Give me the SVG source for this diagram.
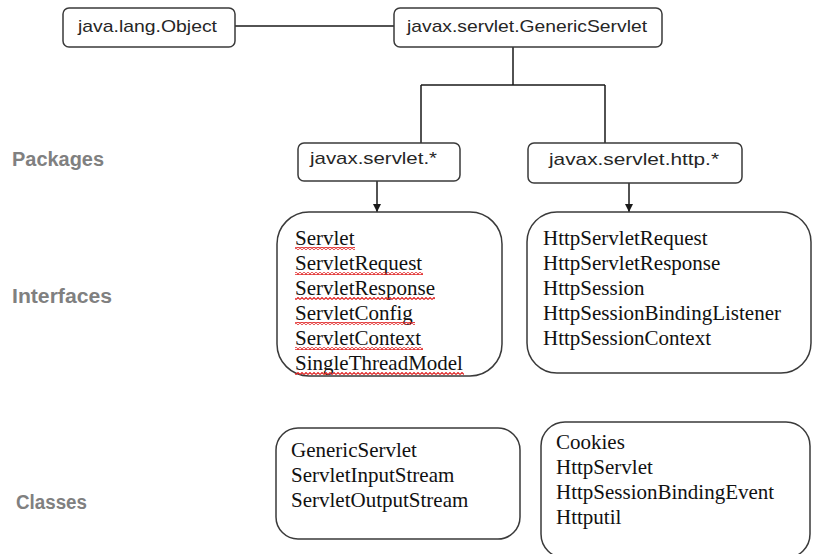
<svg xmlns="http://www.w3.org/2000/svg" width="813" height="554" viewBox="0 0 813 554">
  <style>
    .box { fill: #ffffff; stroke: #3a3a3a; stroke-width: 1.5; }
    .edge { fill: none; stroke: #1a1a1a; stroke-width: 1.5; }
    .sans { font-family: "Liberation Sans", Arial, sans-serif; font-size: 17px; fill: #262626; }
    .serif { font-family: "Liberation Serif", "Times New Roman", serif; font-size: 21px; fill: #111111; }
    .label { font-family: "Liberation Sans", Arial, sans-serif; font-size: 20px; font-weight: bold; fill: #808080; }
    .squiggle { fill: url(#wave); }
  </style>
  <defs>
    <marker id="arrow" viewBox="0 0 10 10" refX="10" refY="5" markerWidth="8" markerHeight="8" orient="auto" markerUnits="userSpaceOnUse">
      <path d="M0,0 L10,5 L0,10 z" fill="#1a1a1a"/>
    </marker>
    <!-- red wavy underline tile -->
    <pattern id="wave" width="4" height="3" patternUnits="userSpaceOnUse">
      <path d="M0,2.5 L2,0.5 L4,2.5" fill="none" stroke="#e02020" stroke-width="1.1"/>
    </pattern>
  </defs>

  <!-- side labels -->
  <g id="labels">
    <text class="label" x="12" y="166" textLength="92" lengthAdjust="spacingAndGlyphs">Packages</text>
    <text class="label" x="12" y="303" textLength="100" lengthAdjust="spacingAndGlyphs">Interfaces</text>
    <text class="label" x="16" y="509" textLength="71" lengthAdjust="spacingAndGlyphs">Classes</text>
  </g>

  <!-- connectors -->
  <g id="connectors">
    <line class="edge" x1="235" y1="26" x2="394" y2="26"/>
    <path class="edge" d="M513,47 V85 M421,85 H605 M421,85 V143 M605,85 V143"/>
    <line class="edge" x1="377" y1="181" x2="377" y2="212" marker-end="url(#arrow)"/>
    <line class="edge" x1="629" y1="183" x2="629" y2="212" marker-end="url(#arrow)"/>
  </g>

  <g id="java-lang-object">
    <rect class="box" x="63" y="8" width="172" height="39" rx="6"/>
    <text class="sans" x="78" y="32" textLength="139" lengthAdjust="spacingAndGlyphs">java.lang.Object</text>
  </g>

  <g id="generic-servlet">
    <rect class="box" x="394" y="8" width="268" height="39" rx="6"/>
    <text class="sans" x="407" y="32" textLength="240" lengthAdjust="spacingAndGlyphs">javax.servlet.GenericServlet</text>
  </g>

  <g id="pkg-servlet">
    <rect class="box" x="298" y="143" width="162" height="38" rx="6"/>
    <text class="sans" x="310" y="164" textLength="127" lengthAdjust="spacingAndGlyphs">javax.servlet.*</text>
  </g>

  <g id="pkg-http">
    <rect class="box" x="528" y="143" width="214" height="40" rx="6"/>
    <text class="sans" x="549" y="165" textLength="170" lengthAdjust="spacingAndGlyphs">javax.servlet.http.*</text>
  </g>

  <g id="servlet-interfaces">
    <rect class="box" x="277" y="212" width="225" height="164" rx="32"/>
    <text class="serif" x="295" y="245">Servlet</text>
    <text class="serif" x="295" y="270">ServletRequest</text>
    <text class="serif" x="295" y="295">ServletResponse</text>
    <text class="serif" x="295" y="320">ServletConfig</text>
    <text class="serif" x="295" y="345">ServletContext</text>
    <text class="serif" x="295" y="370">SingleThreadModel</text>
    <rect class="squiggle" x="295" y="247" width="60" height="3"/>
    <rect class="squiggle" x="295" y="272" width="128" height="3"/>
    <rect class="squiggle" x="295" y="297" width="140" height="3"/>
    <rect class="squiggle" x="295" y="322" width="120" height="3"/>
    <rect class="squiggle" x="295" y="347" width="128" height="3"/>
    <rect class="squiggle" x="295" y="372" width="169" height="3"/>
  </g>

  <g id="http-interfaces">
    <rect class="box" x="527" y="212" width="284" height="161" rx="30"/>
    <text class="serif" x="543" y="245">HttpServletRequest</text>
    <text class="serif" x="543" y="270">HttpServletResponse</text>
    <text class="serif" x="543" y="295">HttpSession</text>
    <text class="serif" x="543" y="320">HttpSessionBindingListener</text>
    <text class="serif" x="543" y="345">HttpSessionContext</text>
  </g>

  <g id="servlet-classes">
    <rect class="box" x="276" y="428" width="244" height="111" rx="22"/>
    <text class="serif" x="291" y="457">GenericServlet</text>
    <text class="serif" x="291" y="482">ServletInputStream</text>
    <text class="serif" x="291" y="507">ServletOutputStream</text>
  </g>

  <g id="http-classes">
    <rect class="box" x="541" y="422" width="269" height="136" rx="24"/>
    <text class="serif" x="556" y="449">Cookies</text>
    <text class="serif" x="556" y="474">HttpServlet</text>
    <text class="serif" x="556" y="499">HttpSessionBindingEvent</text>
    <text class="serif" x="556" y="524">Httputil</text>
  </g>
</svg>
